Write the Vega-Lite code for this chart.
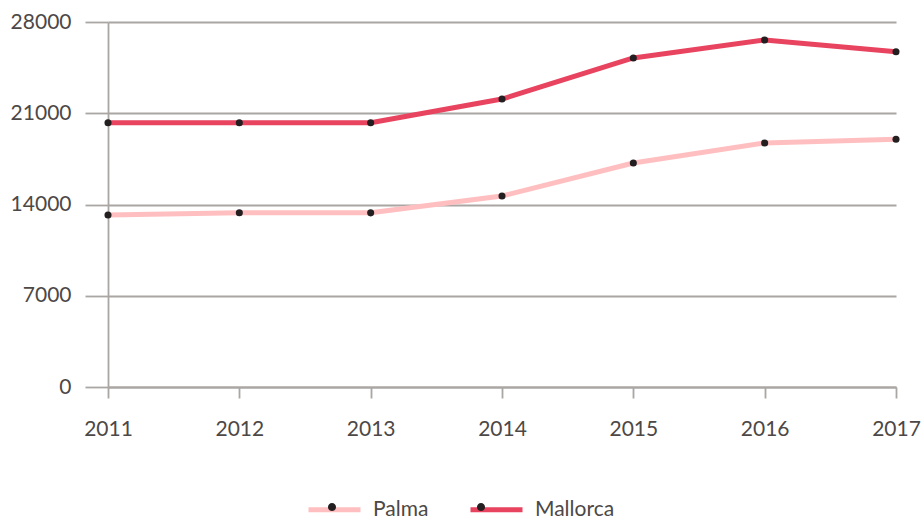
{
  "$schema": "https://vega.github.io/schema/vega-lite/v6.json",
  "width": 788,
  "height": 365,
  "autosize": "none",
  "padding": {"left": 108, "top": 22, "right": 26, "bottom": 129},
  "background": "white",
  "config": {
    "view": {"stroke": null},
    "font": "Lato",
    "axis": {"labelFont": "Lato", "labelFontSize": 21, "labelColor": "#4d4846", "gridColor": "#aaa6a3", "domainColor": "#aaa6a3", "tickColor": "#aaa6a3", "gridWidth": 1.8, "domainWidth": 1.8, "tickWidth": 1.8, "title": null}
  },
  "data": {
    "values": [
      {"year": 2011, "series": "Palma", "value": 13190},
      {"year": 2012, "series": "Palma", "value": 13370},
      {"year": 2013, "series": "Palma", "value": 13360},
      {"year": 2014, "series": "Palma", "value": 14650},
      {"year": 2015, "series": "Palma", "value": 17180},
      {"year": 2016, "series": "Palma", "value": 18720},
      {"year": 2017, "series": "Palma", "value": 19000},
      {"year": 2011, "series": "Mallorca", "value": 20270},
      {"year": 2012, "series": "Mallorca", "value": 20270},
      {"year": 2013, "series": "Mallorca", "value": 20270},
      {"year": 2014, "series": "Mallorca", "value": 22090},
      {"year": 2015, "series": "Mallorca", "value": 25240},
      {"year": 2016, "series": "Mallorca", "value": 26620},
      {"year": 2017, "series": "Mallorca", "value": 25720}
    ]
  },
  "encoding": {
    "x": {"field": "year", "type": "quantitative", "scale": {"domain": [2011, 2017], "nice": false, "zero": false},
      "axis": {"values": [2011, 2012, 2013, 2014, 2015, 2016, 2017], "format": "d", "grid": false, "domain": true, "tickSize": 11, "labelPadding": 20, "labelFlush": false, "labelOverlap": false}},
    "y": {"field": "value", "type": "quantitative", "scale": {"domain": [0, 28000], "nice": false},
      "axis": {"values": [0, 7000, 14000, 21000, 28000], "format": "d", "grid": true, "domain": true, "tickSize": 23, "labelPadding": 14, "labelBaseline": "middle"}}
  },
  "layer": [
    {
      "mark": {"type": "line", "strokeWidth": 5, "interpolate": "linear", "strokeJoin": "round"},
      "encoding": {
        "color": {"field": "series", "type": "nominal",
          "scale": {"domain": ["Palma", "Mallorca"], "range": ["#ffbfc0", "#e8435f"]},
          "legend": {"orient": "none", "legendX": 198, "legendY": 459, "direction": "horizontal", "title": null, "padding": 0,
            "symbolType": "stroke", "symbolSize": 2704, "symbolStrokeWidth": 5, "labelOffset": 10, "columnPadding": 31,
            "labelFont": "Lato", "labelFontSize": 21, "labelColor": "#4d4846"}}
      }
    },
    {
      "mark": {"type": "point", "filled": true, "size": 50, "opacity": 1},
      "encoding": {
        "fill": {"field": "series", "type": "nominal", "sort": ["Palma", "Mallorca"],
          "scale": {"range": ["#231f20", "#231f20"]},
          "legend": {"orient": "none", "legendX": 198, "legendY": 459, "direction": "horizontal", "title": null, "padding": 0,
            "symbolType": "M-0.155,0A0.155,0.155 0 1,0 0.155,0A0.155,0.155 0 1,0 -0.155,0Z", "symbolSize": 2704, "symbolStrokeWidth": 0, "symbolOpacity": 1, "labelOffset": 10, "columnPadding": 31,
            "labelFont": "Lato", "labelFontSize": 21, "labelOpacity": 0}}
      }
    }
  ]
}
